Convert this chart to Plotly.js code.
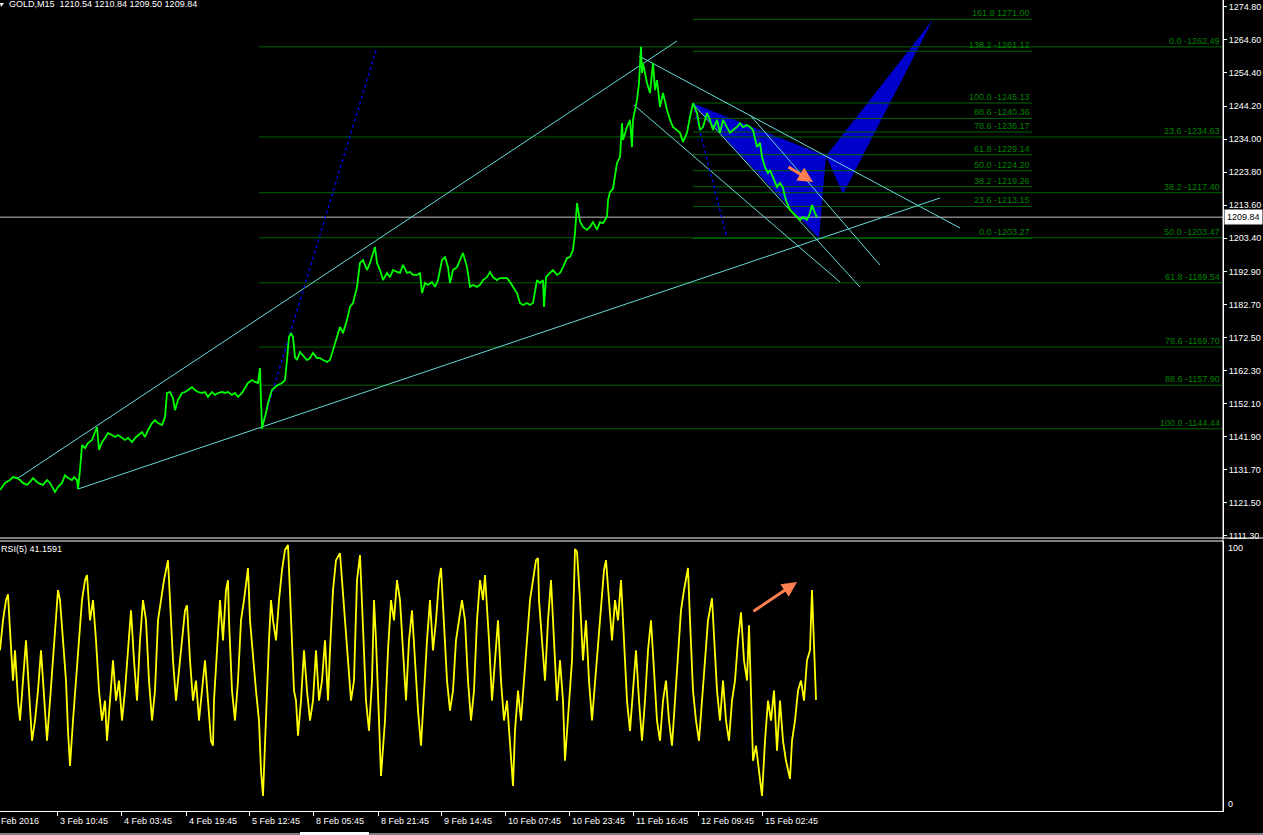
<!DOCTYPE html>
<html><head><meta charset="utf-8">
<script src="https://cdn.plot.ly/plotly-3.0.1.min.js"></script>
<style>html,body{margin:0;padding:0;background:#000;overflow:hidden}#chart{width:1263px;height:835px}</style>
</head><body><div id="chart"></div>
<script>
// ---------- DATA ----------
const symbolTitle = 'GOLD,M15  1210.54 1210.84 1209.50 1209.84';
const rsiTitle = 'RSI(5) 41.1591';
const bid = 1209.84;

// [bar index (M15 bars from left edge), close]
const priceSeries = [
[0,1125.5],[5,1127.7],[10,1128.6],[13,1129.5],[17,1129.2],[20,1128.6],[23,1127.7],[27,1127.1],[30,1128.0],[33,1129.2],
[37,1128.0],[40,1127.4],[43,1127.1],[47,1128.6],[50,1127.7],[53,1126.1],[55,1124.9],[58,1126.4],[62,1127.7],[65,1130.1],
[68,1129.2],[72,1128.6],[74,1129.5],[77,1128.6],[78,1125.8],[80,1131.7],[82,1139.4],[85,1138.5],[88,1140.0],[92,1141.0],
[95,1143.4],[97,1145.0],[99,1137.9],[102,1140.3],[105,1141.6],[108,1143.1],[112,1142.5],[115,1141.9],[118,1142.5],[122,1141.6],
[125,1141.0],[128,1141.6],[132,1140.3],[135,1141.6],[138,1142.5],[142,1143.4],[145,1141.9],[148,1144.0],[152,1146.2],[155,1147.1],
[158,1146.2],[162,1145.6],[165,1148.1],[167,1155.5],[170,1155.8],[173,1153.9],[175,1150.2],[178,1153.3],[182,1155.5],[185,1155.8],
[188,1156.4],[192,1157.3],[195,1156.4],[198,1155.8],[202,1155.5],[205,1155.8],[208,1154.3],[212,1155.8],[215,1154.9],[218,1155.5],
[222,1155.8],[225,1155.5],[228,1155.8],[232,1154.9],[235,1155.5],[238,1154.3],[242,1155.5],[245,1157.3],[248,1158.6],[252,1159.5],
[255,1158.9],[258,1158.6],[260,1163.2],[261,1153.3],[262,1144.5],[264,1147.1],[266,1149.3],[268,1152.4],[270,1154.3],[272,1156.4],
[275,1157.3],[278,1158.0],[282,1158.6],[285,1159.5],[287,1165.7],[289,1172.8],[291,1174.0],[293,1172.8],[295,1166.6],[297,1165.7],
[300,1168.2],[303,1167.2],[307,1165.7],[310,1166.3],[313,1167.9],[317,1166.3],[320,1166.3],[323,1165.7],[327,1165.1],[330,1165.7],
[333,1168.8],[337,1172.8],[340,1175.9],[343,1174.0],[347,1178.1],[350,1182.1],[353,1183.3],[357,1188.3],[360,1195.7],[363,1196.6],
[367,1193.5],[370,1195.7],[373,1198.8],[375,1200.6],[377,1195.7],[380,1193.5],[383,1190.4],[387,1192.6],[390,1191.3],[393,1193.5],
[397,1192.9],[400,1192.6],[403,1195.1],[407,1192.6],[410,1192.9],[413,1192.0],[417,1192.0],[420,1192.6],[422,1186.4],[425,1189.5],
[428,1188.9],[432,1189.8],[435,1188.3],[438,1190.4],[442,1196.6],[445,1197.5],[448,1194.4],[450,1189.5],[453,1193.5],[457,1194.4],
[460,1196.6],[463,1198.8],[467,1194.4],[470,1188.3],[473,1188.9],[477,1188.3],[480,1188.9],[483,1190.4],[487,1191.3],[490,1192.9],
[493,1191.3],[497,1190.4],[500,1191.0],[503,1191.0],[507,1191.0],[510,1189.8],[513,1188.3],[517,1186.4],[520,1183.3],[523,1182.7],
[527,1183.3],[530,1182.7],[533,1183.3],[537,1190.4],[540,1189.5],[543,1190.4],[544,1182.1],[546,1191.3],[550,1192.6],[553,1193.5],
[557,1192.0],[560,1192.6],[563,1194.4],[567,1197.2],[570,1197.5],[573,1199.7],[575,1204.9],[577,1214.2],[580,1208.5],[583,1206.8],
[587,1205.9],[590,1206.8],[593,1208.3],[597,1206.0],[600,1208.3],[603,1208.0],[607,1210.0],[608,1215.1],[610,1217.6],[613,1218.7],
[617,1226.6],[620,1228.4],[622,1238.9],[623,1233.7],[627,1237.7],[630,1239.9],[632,1231.5],[633,1239.9],[637,1246.1],[639,1251.3],
[641,1262.5],[642,1254.4],[643,1257.5],[647,1251.3],[650,1248.2],[653,1257.5],[655,1249.1],[657,1252.2],[660,1243.9],[663,1248.2],
[667,1243.0],[670,1239.9],[673,1237.7],[677,1236.8],[680,1235.9],[683,1233.1],[687,1235.9],[690,1240.8],[692,1243.9],[693,1245.1],
[697,1242.0],[700,1236.8],[703,1237.7],[707,1242.0],[710,1239.9],[713,1236.8],[717,1239.9],[720,1235.9],[723,1239.9],[727,1237.7],
[730,1235.9],[733,1236.8],[737,1237.7],[740,1238.9],[743,1237.7],[747,1238.3],[750,1237.7],[753,1236.8],[755,1233.7],[757,1231.5],
[760,1232.8],[762,1228.4],[765,1225.3],[768,1223.5],[770,1224.4],[773,1222.3],[777,1219.2],[780,1220.4],[783,1218.9],[785,1216.1],
[787,1214.2],[790,1212.1],[793,1211.1],[797,1209.9],[800,1209.0],[803,1209.9],[807,1209.0],[810,1211.1],[812,1213.6],[815,1211.1],
[817,1209.84]];

// [bar index, RSI(5)]
const rsiSeries = [
[0,59.5],[3,70.6],[6,78.1],[8,80.3],[10,66.9],[13,48.3],[15,59.5],[18,40.9],[20,33.5],[23,48.3],[26,63.2],[29,44.6],[32,26.0],
[35,33.5],[38,44.6],[41,59.5],[44,40.9],[47,26.0],[50,40.9],[53,55.8],[56,70.6],[58,81.8],[60,78.1],[63,63.2],[66,48.3],[68,29.7],
[70,16.7],[73,33.5],[76,48.3],[79,63.2],[82,78.1],[85,85.5],[87,87.4],[90,70.6],[93,78.1],[96,63.2],[99,44.6],[102,33.5],[105,40.9],
[107,26.0],[110,40.9],[113,55.8],[116,40.9],[119,48.3],[122,33.5],[125,44.6],[128,59.5],[131,74.3],[134,55.8],[137,40.9],[140,63.2],
[143,78.1],[146,70.6],[149,48.3],[152,33.5],[155,44.6],[158,70.6],[161,78.1],[164,85.5],[168,92.9],[170,78.1],[173,55.8],[176,40.9],
[179,52.0],[182,63.2],[185,74.3],[187,76.2],[190,55.8],[193,40.9],[196,48.3],[199,33.5],[202,44.6],[205,55.8],[208,40.9],[211,26.0],
[213,24.2],[214,40.9],[217,59.5],[220,78.1],[223,63.2],[226,81.8],[228,85.5],[229,70.6],[232,44.6],[235,33.5],[238,48.3],[241,70.6],
[244,78.1],[248,90.0],[250,70.6],[253,55.8],[256,44.6],[259,33.5],[261,14.9],[263,5.6],[265,26.0],[267,48.3],[269,63.2],[271,78.1],
[273,70.6],[276,63.2],[279,78.1],[282,89.2],[285,96.7],[288,98.5],[290,78.1],[292,59.5],[294,44.6],[296,40.9],[298,27.9],[301,40.9],
[304,59.5],[307,44.6],[310,33.5],[313,40.9],[316,59.5],[319,40.9],[322,48.3],[325,63.2],[328,40.9],[330,59.5],[333,81.8],[336,92.9],
[340,95.5],[342,85.5],[345,70.6],[348,55.8],[351,40.9],[354,48.3],[357,85.5],[360,94.8],[363,70.6],[366,40.9],[369,29.7],[372,48.3],
[374,78.1],[376,63.2],[379,33.5],[381,13.0],[385,33.5],[388,59.5],[391,78.1],[394,70.6],[397,85.5],[400,78.1],[403,59.5],[406,40.9],
[409,63.2],[412,74.3],[415,55.8],[418,37.2],[421,24.2],[424,44.6],[427,63.2],[430,78.1],[433,59.5],[436,70.6],[439,85.5],[441,90.0],
[444,70.6],[447,48.3],[450,37.2],[453,44.6],[456,63.2],[459,70.6],[462,78.1],[465,70.6],[468,48.3],[471,33.5],[474,44.6],[477,70.6],
[480,85.5],[483,78.1],[485,87.4],[489,63.2],[492,40.9],[495,55.8],[498,70.6],[501,48.3],[504,33.5],[507,40.9],[510,26.0],[513,9.3],
[515,29.7],[518,44.6],[521,33.5],[524,48.3],[527,63.2],[530,78.1],[533,85.5],[536,92.9],[538,93.7],[539,78.1],[542,63.2],[545,48.3],
[548,70.6],[551,85.5],[554,63.2],[557,40.9],[560,55.8],[563,40.9],[565,18.6],[569,40.9],[572,55.8],[575,97.0],[577,96.0],[580,78.1],
[583,55.8],[586,70.6],[589,48.3],[592,33.5],[595,48.3],[598,63.2],[601,78.1],[604,89.2],[606,92.9],[609,78.1],[612,63.2],[615,78.1],
[618,70.6],[621,85.5],[624,63.2],[627,40.9],[630,29.7],[633,44.6],[636,59.5],[639,40.9],[642,26.0],[645,40.9],[648,59.5],[651,70.6],
[654,52.0],[657,33.5],[660,26.0],[663,40.9],[666,48.3],[669,33.5],[672,24.2],[675,40.9],[678,55.8],[681,74.3],[684,81.8],[688,90.0],
[690,70.6],[693,44.6],[696,33.5],[699,26.0],[702,40.9],[705,55.8],[708,70.6],[712,78.8],[714,63.2],[717,44.6],[720,33.5],[723,48.3],
[726,33.5],[729,26.0],[732,40.9],[735,48.3],[738,63.2],[741,73.6],[744,55.8],[747,48.3],[749,68.8],[751,40.9],[753,18.6],[756,24.2],
[759,14.9],[762,5.6],[765,26.0],[768,40.9],[771,33.5],[774,44.6],[777,22.3],[780,40.9],[783,26.0],[786,18.6],[790,11.9],[792,26.0],
[795,33.5],[798,44.6],[801,48.3],[804,40.9],[807,55.8],[810,59.5],[812,81.8],[814,59.5],[816,41.16]];

// Fibonacci retracement (big swing) and expansion (small swing)
const fibALevels = ['0.0','23.6','38.2','50.0','61.8','78.6','88.6','100.0'];
const fibAPrices = [1262.49,1234.63,1217.40,1203.47,1189.54,1169.70,1157.90,1144.44];
const fibABars = [259, 1222];
const fibBLevels = ['161.8','138.2','100.0','88.6','78.6','61.8','50.0','38.2','23.6','0.0'];
const fibBPrices = [1271.00,1261.12,1245.13,1240.36,1236.17,1229.14,1224.20,1219.26,1213.15,1203.27];
const fibBLabels = ['161.8 1271.00','138.2 -1261.12','100.0 -1245.13','88.6 -1240.36','78.6 -1236.17','61.8 -1229.14','50.0 -1224.20','38.2 -1219.26','23.6 -1213.15','0.0 -1203.27'];
const fibBBars = [693, 1032];

// trend lines: [bar0, price0, bar1, price1]
const trendLines = [
  [18,1129.21,677,1264.29],
  [78,1125.81,940,1215.76],
  [639,1259.65,960,1206.49],
  [634,1244.50,840,1189.79],
  [693,1244.81,860,1188.25],
  [750,1241.41,880,1195.05]
];
const dottedLines = [
  [262,1145.28,377,1262.43],
  [693,1244.81,727,1203.40]
];
// harmonic pattern XABCD as two triangles
const patternBars = [[692,826,819],[826,843,933]];
const patternPrices = [[1245.13,1228.74,1203.27],[1228.74,1216.99,1270.90]];
// orange arrows: [tailBar, tailVal, headBar, headVal]
const priceArrow = [787,1225.65,813,1220.70];
const rsiArrow = [752,73.6,797,84.8];

const priceTicks = [1274.80,1264.60,1254.40,1244.20,1234.00,1223.80,1213.60,1203.40,1192.90,1182.70,1172.50,1162.30,1152.10,1141.90,1131.70,1121.50,1111.30];
const timeTickBars = [57,121,186,249,313,378,441,505,569,633,698,762];
const timeTickLabels = ['3 Feb 10:45','4 Feb 03:45','4 Feb 19:45','5 Feb 12:45','8 Feb 05:45','8 Feb 21:45','9 Feb 14:45','10 Feb 07:45','10 Feb 23:45','11 Feb 16:45','12 Feb 09:45','15 Feb 02:45'];
const firstDateLabel = 'Feb 2016';

// ---------- CHART ----------
const W = 1223, H = 811;          // plot area in px
const px = v => v / W;            // pixel -> paper x
const py = v => (H - v) / H;      // pixel -> paper y
const FONT = 'Liberation Sans, Arial, sans-serif';
const FS = 9;
const FIBLINE = '#006400', FIBTEXT = '#008000', CYAN = '#66dada';

const traces = [];
patternBars.forEach((b, i) => {
  traces.push({type:'scatter', mode:'lines', x:b.concat(b[0]), y:patternPrices[i].concat(patternPrices[i][0]),
    xaxis:'x', yaxis:'y', fill:'toself', fillcolor:'#0000cd', line:{width:0, color:'#0000cd'}, hoverinfo:'skip'});
});
function fibTrace(prices, bars){
  const x=[], y=[];
  prices.forEach(p => { x.push(bars[0], bars[1], null); y.push(p, p, null); });
  return {type:'scatter', mode:'lines', x, y, xaxis:'x', yaxis:'y', line:{color:FIBLINE, width:1}, hoverinfo:'skip'};
}
traces.push(fibTrace(fibAPrices, fibABars));
traces.push(fibTrace(fibBPrices, fibBBars));
traces.push({type:'scatter', mode:'lines', x:[0, W], y:[bid, bid], xaxis:'x', yaxis:'y', line:{color:'#c0c0c0', width:1}, hoverinfo:'skip'});
trendLines.forEach(t => traces.push({type:'scatter', mode:'lines', x:[t[0],t[2]], y:[t[1],t[3]], xaxis:'x', yaxis:'y', line:{color:CYAN, width:1}, hoverinfo:'skip'}));
dottedLines.forEach(t => traces.push({type:'scatter', mode:'lines', x:[t[0],t[2]], y:[t[1],t[3]], xaxis:'x', yaxis:'y', line:{color:'#0000ff', width:1.3, dash:'dot'}, hoverinfo:'skip'}));
traces.push({type:'scatter', mode:'lines', x:priceSeries.map(d=>d[0]), y:priceSeries.map(d=>d[1]), xaxis:'x', yaxis:'y', line:{color:'#00ff00', width:1.8}, hoverinfo:'skip'});
traces.push({type:'scatter', mode:'lines', x:rsiSeries.map(d=>d[0]), y:rsiSeries.map(d=>d[1]), xaxis:'x', yaxis:'y2', line:{color:'#ffff00', width:1.8}, hoverinfo:'skip'});

const ann = [];
const baseFont = {family:FONT, size:FS, color:'#ffffff'};
ann.push({xref:'paper', yref:'paper', x:0, y:1, xanchor:'left', yanchor:'middle', xshift:7, yshift:-4, text:symbolTitle, showarrow:false, font:baseFont});
ann.push({xref:'paper', yref:'paper', x:0, y:py(541), xanchor:'left', yanchor:'middle', xshift:-1, yshift:-8, text:rsiTitle, showarrow:false, font:baseFont});
fibALevels.forEach((l, i) => ann.push({xref:'x', yref:'y', x:fibABars[1], y:fibAPrices[i], xanchor:'right', yanchor:'middle', yshift:6, xshift:0,
  text:l + ' -' + fibAPrices[i].toFixed(2), showarrow:false, font:{family:FONT, size:FS, color:FIBTEXT}}));
fibBLabels.forEach((l, i) => ann.push({xref:'x', yref:'y', x:fibBBars[1], y:fibBPrices[i], xanchor:'right', yanchor:'middle', yshift:6, xshift:0,
  text:l, showarrow:false, font:{family:FONT, size:FS, color:FIBTEXT}}));
timeTickBars.forEach((b, i) => ann.push({xref:'x', yref:'paper', x:b, y:0, xanchor:'left', yanchor:'middle', xshift:1, yshift:-10,
  text:timeTickLabels[i], showarrow:false, font:baseFont}));
ann.push({xref:'x', yref:'paper', x:0, y:0, xanchor:'left', yanchor:'middle', xshift:-1, yshift:-10, text:firstDateLabel, showarrow:false, font:baseFont});
ann.push({xref:'paper', yref:'y', x:1, y:bid, xanchor:'left', yanchor:'middle', xshift:1, text:bid.toFixed(2), showarrow:false,
  bgcolor:'#ffffff', borderpad:2, font:{family:FONT, size:FS, color:'#000000'}});
ann.push({xref:'paper', yref:'y2', x:1, y:100, xanchor:'left', yanchor:'top', xshift:3, text:'100', showarrow:false, font:baseFont});
ann.push({xref:'paper', yref:'y2', x:1, y:0, xanchor:'left', yanchor:'bottom', xshift:3, text:'0', showarrow:false, font:baseFont});
ann.push({xref:'x', yref:'y', axref:'x', ayref:'y', x:priceArrow[2], y:priceArrow[3], ax:priceArrow[0], ay:priceArrow[1],
  showarrow:true, arrowhead:2, arrowsize:1, arrowwidth:3, arrowcolor:'#ff7f50', text:''});
ann.push({xref:'x', yref:'y2', axref:'x', ayref:'y2', x:rsiArrow[2], y:rsiArrow[3], ax:rsiArrow[0], ay:rsiArrow[1],
  showarrow:true, arrowhead:2, arrowsize:1, arrowwidth:3, arrowcolor:'#ff7f50', text:''});

const shapes = [
  {type:'line', xref:'paper', yref:'paper', x0:0, x1:1263/W, y0:py(538), y1:py(538), line:{color:'#ffffff', width:1}},
  {type:'line', xref:'paper', yref:'paper', x0:0, x1:1, y0:py(541), y1:py(541), line:{color:'#ffffff', width:1}},
  {type:'line', xref:'paper', yref:'paper', x0:1, x1:1, y0:0, y1:1, line:{color:'#ffffff', width:1}},
  {type:'line', xref:'paper', yref:'paper', x0:0, x1:1263/W, y0:py(834), y1:py(834), line:{color:'#ffffff', width:1}},
  {type:'rect', xref:'paper', yref:'paper', x0:px(300), x1:px(369), y0:py(835), y1:py(832), line:{width:0}, fillcolor:'#ffffff'},
  {type:'path', xref:'paper', yref:'paper', path:`M ${px(0)} ${py(3)} L ${px(4)} ${py(3)} L ${px(1)} ${py(7)} Z`, fillcolor:'#ffffff', line:{width:0}}
];

const layout = {
  width:1263, height:835,
  margin:{l:0, r:40, t:0, b:24, pad:0},
  paper_bgcolor:'#000000', plot_bgcolor:'#000000',
  showlegend:false, hovermode:false,
  font:{family:FONT, size:FS, color:'#ffffff'},
  xaxis:{domain:[0,1], range:[0, W], anchor:'y2', showgrid:false, zeroline:false,
    showline:true, linecolor:'#ffffff', linewidth:1,
    tickmode:'array', tickvals:timeTickBars, ticktext:timeTickBars.map(()=>''), ticks:'outside', ticklen:4, tickcolor:'#ffffff',
    showticklabels:false, fixedrange:true},
  yaxis:{domain:[py(538), 1], range:[1110.68, 1276.96], side:'right', anchor:'x', showgrid:false, zeroline:false,
    showline:true, linecolor:'#ffffff', linewidth:1,
    tickmode:'array', tickvals:priceTicks, ticktext:priceTicks.map(v=>v.toFixed(2)),
    ticks:'outside', ticklen:3, tickcolor:'#ffffff', tickfont:{family:FONT, size:FS, color:'#ffffff'}, fixedrange:true},
  yaxis2:{domain:[0, py(541)], range:[0,100], side:'right', anchor:'x', showgrid:false, zeroline:false,
    showline:true, linecolor:'#ffffff', linewidth:1, showticklabels:false, ticks:'', fixedrange:true},
  annotations:ann, shapes:shapes
};

Plotly.newPlot('chart', traces, layout, {staticPlot:true, displayModeBar:false});
</script></body></html>
